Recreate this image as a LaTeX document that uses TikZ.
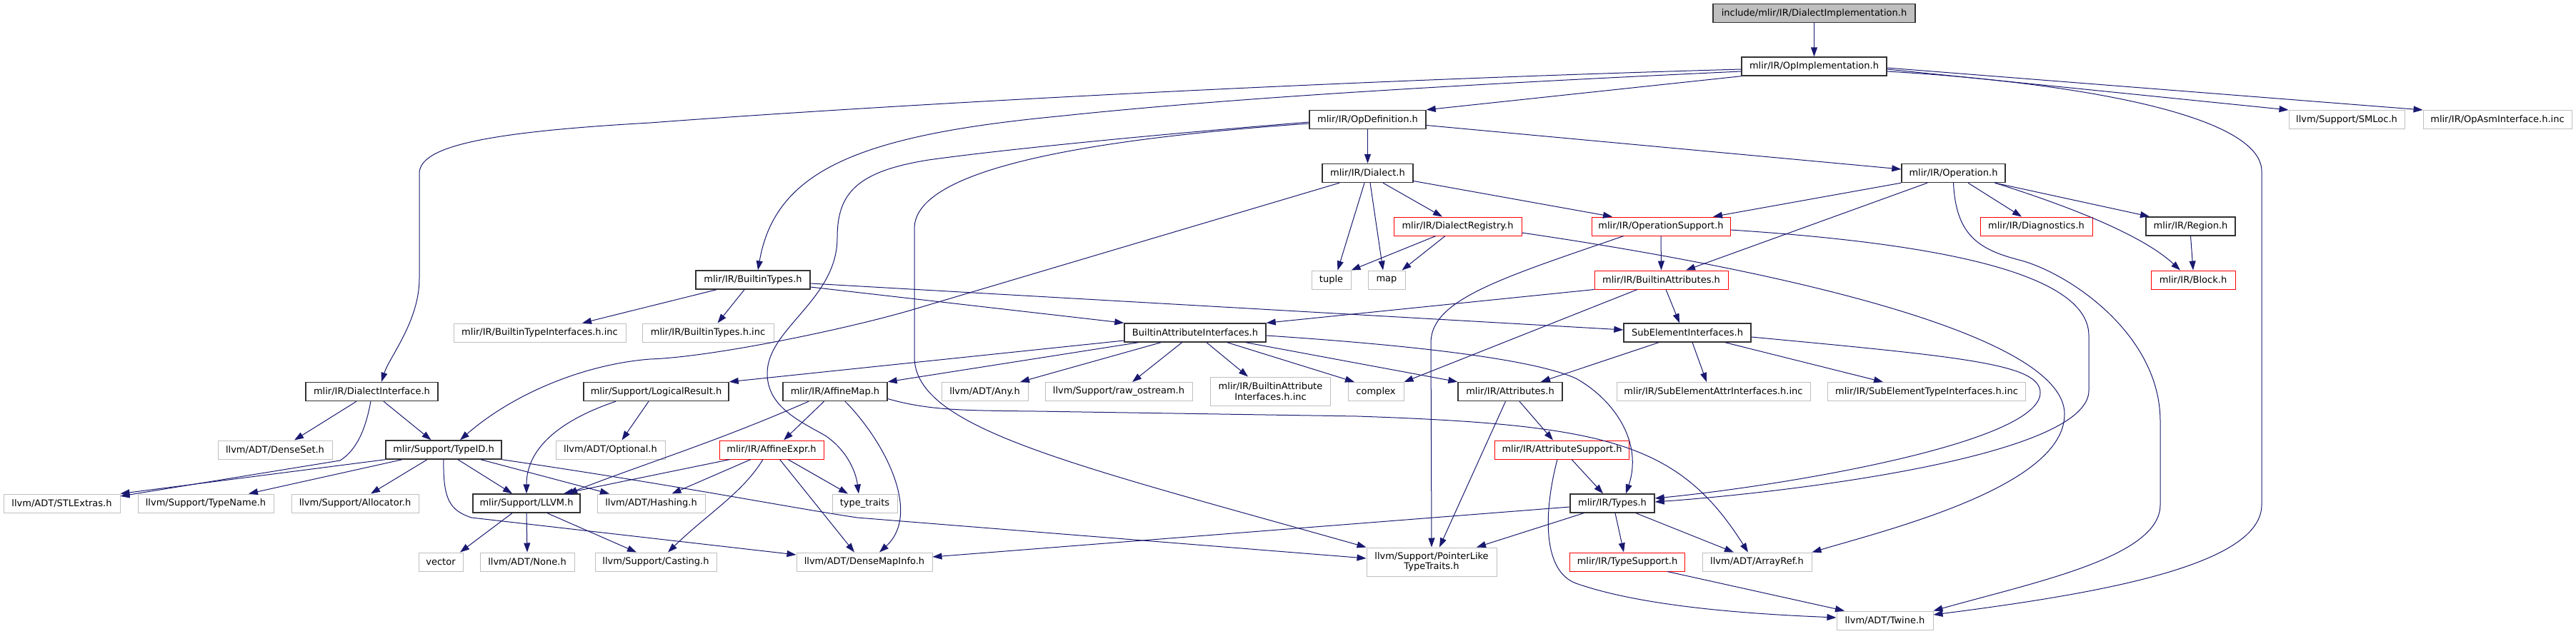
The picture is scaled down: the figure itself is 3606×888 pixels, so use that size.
\documentclass[tikz,border=0pt]{standalone}
\usepackage{fontspec}
\setmainfont{DejaVu Sans}
\usetikzlibrary{arrows.meta}
\definecolor{edgec}{HTML}{191970}
\definecolor{ndark}{HTML}{333333}
\definecolor{ngray}{HTML}{BFBFBF}
\definecolor{nred}{HTML}{FF0000}
\tikzset{
  nbase/.style={rectangle, inner sep=0pt, minimum height=26pt,
    font=\fontsize{13}{14.5}\selectfont, align=center},
  nb/.style={nbase, draw=ndark, line width=1.4pt},
  nr/.style={nbase, draw=nred, line width=1pt},
  ng/.style={nbase, draw=ngray, line width=1pt},
  ntop/.style={nb, fill=ngray},
  two/.style={minimum height=40pt},
  e/.style={draw=edgec, line width=1pt, -{Triangle[length=13pt,width=9pt]}},
}
\begin{document}
\begin{tikzpicture}[x=1pt,y=-1pt]
\useasboundingbox (0,0) rectangle (3606,888);
% row 1-3
\node[ntop, minimum width=283pt] (top) at (2539.5,18.5) {include/mlir/IR/DialectImplementation.h};
\node[nb, minimum width=203pt] (opimpl) at (2539.5,93) {mlir/IR/OpImplementation.h};
\node[nb, minimum width=163pt] (opdef) at (1914.5,167.5) {mlir/IR/OpDefinition.h};
\node[ng, minimum width=162pt] (smloc) at (3285,167.5) {llvm/Support/SMLoc.h};
\node[ng, minimum width=208pt] (opasm) at (3496,167.5) {mlir/IR/OpAsmInterface.h.inc};
% row 4
\node[nb, minimum width=127pt] (dialect) at (1914.5,242.5) {mlir/IR/Dialect.h};
\node[nb, minimum width=145pt] (operation) at (2734.5,242.5) {mlir/IR/Operation.h};
% row 5
\node[nr, minimum width=179pt] (dregistry) at (2040.5,317) {mlir/IR/DialectRegistry.h};
\node[nr, minimum width=194pt] (opsupport) at (2325,317) {mlir/IR/OperationSupport.h};
\node[nr, minimum width=157pt] (diagnostics) at (2850.5,317) {mlir/IR/Diagnostics.h};
\node[nb, minimum width=125pt] (region) at (3066.5,317) {mlir/IR/Region.h};
% row 6
\node[nb, minimum width=160pt] (btypes) at (1054,392) {mlir/IR/BuiltinTypes.h};
\node[ng, minimum width=55pt] (tuple) at (1863.5,392) {tuple};
\node[ng, minimum width=52pt] (map) at (1941,392) {map};
\node[nr, minimum width=187pt] (battrs) at (2325.5,392) {mlir/IR/BuiltinAttributes.h};
\node[nr, minimum width=118pt] (block) at (3070,392) {mlir/IR/Block.h};
% row 7
\node[ng, minimum width=241pt] (btiinc) at (755.5,466) {mlir/IR/BuiltinTypeInterfaces.h.inc};
\node[ng, minimum width=184pt] (btinc) at (991,466) {mlir/IR/BuiltinTypes.h.inc};
\node[nb, minimum width=198pt] (bai) at (1673,466) {BuiltinAttributeInterfaces.h};
\node[nb, minimum width=178pt] (sei) at (2362,466) {SubElementInterfaces.h};
% row 8
\node[nb, minimum width=185pt] (dinterface) at (520.5,548.5) {mlir/IR/DialectInterface.h};
\node[nb, minimum width=203pt] (logical) at (918.5,548.5) {mlir/Support/LogicalResult.h};
\node[nb, minimum width=146pt] (affinemap) at (1169,548.5) {mlir/IR/AffineMap.h};
\node[ng, minimum width=121pt] (any) at (1378.5,548.5) {llvm/ADT/Any.h};
\node[ng, minimum width=206pt] (rawos) at (1566,548.5) {llvm/Support/raw\_ostream.h};
\node[ng, two, minimum width=168pt] (baiinc) at (1778.5,548) {mlir/IR/BuiltinAttribute\\Interfaces.h.inc};
\node[ng, minimum width=78pt] (complex) at (1926,548.5) {complex};
\node[nb, minimum width=146pt] (attributes) at (2114,548.5) {mlir/IR/Attributes.h};
\node[ng, minimum width=271pt] (seattr) at (2398.5,548.5) {mlir/IR/SubElementAttrInterfaces.h.inc};
\node[ng, minimum width=277pt] (setype) at (2697,548.5) {mlir/IR/SubElementTypeInterfaces.h.inc};
% row 9
\node[ng, minimum width=160pt] (denseset) at (385,630) {llvm/ADT/DenseSet.h};
\node[nb, minimum width=162pt] (typeid) at (621,630) {mlir/Support/TypeID.h};
\node[ng, minimum width=153pt] (optional) at (854.5,630) {llvm/ADT/Optional.h};
\node[nr, minimum width=146pt] (affineexpr) at (1080,630) {mlir/IR/AffineExpr.h};
\node[nr, minimum width=188pt] (attrsupport) at (2186.5,630) {mlir/IR/AttributeSupport.h};
% row 10
\node[ng, minimum width=163pt] (stlextras) at (86.5,705) {llvm/ADT/STLExtras.h};
\node[ng, minimum width=190pt] (typename) at (288,705) {llvm/Support/TypeName.h};
\node[ng, minimum width=178pt] (allocator) at (497,705) {llvm/Support/Allocator.h};
\node[nb, minimum width=150pt] (llvm) at (737,705) {mlir/Support/LLVM.h};
\node[ng, minimum width=151pt] (hashing) at (911.5,705) {llvm/ADT/Hashing.h};
\node[ng, minimum width=91pt] (typetraits) at (1210.5,705) {type\_traits};
\node[nb, minimum width=118pt] (types) at (2257,705) {mlir/IR/Types.h};
% row 11
\node[ng, minimum width=62pt] (vector) at (617,787) {vector};
\node[ng, minimum width=132pt] (none) at (738,787) {llvm/ADT/None.h};
\node[ng, minimum width=170pt] (casting) at (918,787) {llvm/Support/Casting.h};
\node[ng, minimum width=190pt] (densemapinfo) at (1210,787) {llvm/ADT/DenseMapInfo.h};
\node[ng, two, minimum width=182pt] (pointerlike) at (2004,787) {llvm/Support/PointerLike\\TypeTraits.h};
\node[nr, minimum width=161pt] (typesupport) at (2278,787) {mlir/IR/TypeSupport.h};
\node[ng, minimum width=153pt] (arrayref) at (2459.5,787) {llvm/ADT/ArrayRef.h};
% row 12
\node[ng, minimum width=135pt] (twine) at (2638.5,869) {llvm/ADT/Twine.h};

% ---- edges ----
\draw[e] (top.south) -- (opimpl.north);
\draw[e] (opimpl.south west) -- (opdef.north east);
\draw[e] ([yshift=-7pt]opimpl.west) .. controls (1900,125) and (1650,145) .. (1480,163) .. controls (1200,190) and (1085,240) .. ([xshift=7pt]btypes.north);
\draw[e] ([yshift=-4pt]opimpl.west) .. controls (1800,115) and (1200,150) .. (910,172) .. controls (680,185) and (587,205) .. (587,243) -- (587,390) .. controls (587,450) and (545,500) .. ([xshift=13.5pt]dinterface.north);
\draw[e] ([yshift=-4pt]opimpl.east) -- (smloc.north west);
\draw[e] ([yshift=-2pt]opimpl.east) -- (opasm.north west);
\draw[e] ([yshift=-7pt]opimpl.east) .. controls (2900,115) and (3166,160) .. (3166,240) -- (3166,707) .. controls (3166,790) and (2950,830) .. ([yshift=8pt]twine.east);

\draw[e] (opdef.south) -- (dialect.north);
\draw[e] ([yshift=-8pt]opdef.east) -- ([yshift=5.5pt]operation.west);
\draw[e] ([yshift=-3.5pt]opdef.west) .. controls (1600,190) and (1400,210) .. (1300,224) .. controls (1200,240) and (1172,270) .. (1172,333) .. controls (1172,420) and (1074,460) .. (1074,523) .. controls (1074,570) and (1120,590) .. (1155,610) .. controls (1185,630) and (1198,660) .. ([xshift=-8.5pt]typetraits.north);
\draw[e] ([yshift=-5.5pt]opdef.west) .. controls (1450,200) and (1280,250) .. (1280,320) -- (1280,500) .. controls (1280,600) and (1500,650) .. (pointerlike.north west);

\draw[e] ([xshift=-4.5pt]dialect.south) -- ([xshift=9pt]tuple.north);
\draw[e] ([xshift=3.5pt]dialect.south) -- ([xshift=-5pt]map.north);
\draw[e] ([xshift=21.5pt]dialect.south) -- ([xshift=-21.5pt]dregistry.north);
\draw[e] ([yshift=-11pt]dialect.east) -- ([xshift=-68pt]opsupport.north);
\draw[e] ([xshift=-39.5pt]dialect.south) -- (1290,430) .. controls (1200,458) and (1000,500) .. (910,503) .. controls (820,510) and (720,550) .. ([xshift=23pt]typeid.north);

\draw[e] ([xshift=-30.5pt]dregistry.south) -- (tuple.north east);
\draw[e] ([xshift=-17.5pt]dregistry.south) -- ([xshift=21.5pt]map.north);
\draw[e] ([yshift=-9pt]dregistry.east) .. controls (2500,380) and (2890,470) .. (2890,580) .. controls (2890,680) and (2650,740) .. (arrayref.north east);

\draw[e] (opsupport.south) -- (battrs.north);
\draw[e] ([xshift=-52pt]opsupport.south) .. controls (2100,390) and (2003,420) .. (2003,480) -- (pointerlike.north);
\draw[e] ([yshift=-5pt]opsupport.east) .. controls (2700,340) and (2924,380) .. (2924,470) -- (2924,547) .. controls (2924,640) and (2500,690) .. ([yshift=2pt]types.east);

\draw[e] (operation.south west) -- ([xshift=73pt]opsupport.north);
\draw[e] ([xshift=-36.5pt]operation.south) -- ([xshift=34.5pt]battrs.north);
\draw[e] ([xshift=20.5pt]operation.south) -- ([xshift=-20.5pt]diagnostics.north);
\draw[e] ([xshift=58pt]operation.south) -- ([xshift=-57.5pt]region.north);
\draw[e] ([xshift=58pt]operation.south) .. controls (2900,290) and (3000,330) .. ([xshift=-18pt]block.north);
\draw[e] (operation.south) .. controls (2738,330) and (2770,350) .. (2830,365) .. controls (2900,385) and (3024,470) .. (3024,590) -- (3024,707) .. controls (3024,780) and (2850,815) .. (twine.north east);
\draw[e] (region.south) -- (block.north);

\draw[e] (battrs.south west) -- (bai.north east);
\draw[e] ([xshift=-33.5pt]battrs.south) -- (complex.north east);
\draw[e] ([xshift=6.5pt]battrs.south) -- ([xshift=-11pt]sei.north);

\draw[e] ([xshift=-51pt]btypes.south) -- ([xshift=59.5pt]btiinc.north);
\draw[e] ([xshift=-12pt]btypes.south) -- ([xshift=13.5pt]btinc.north);
\draw[e] ([yshift=-10pt]btypes.east) -- (bai.north west);
\draw[e] ([yshift=-5pt]btypes.east) -- ([yshift=4pt]sei.west);

\draw[e] ([yshift=-11pt]bai.west) -- (logical.north east);
\draw[e] ([xshift=-79.5pt]bai.south) -- (affinemap.north east);
\draw[e] ([xshift=-48pt]bai.south) -- ([xshift=49.5pt]any.north);
\draw[e] ([xshift=-18.5pt]bai.south) -- ([xshift=19pt]rawos.north);
\draw[e] ([xshift=16pt]bai.south) -- ([xshift=-31.5pt]baiinc.north);
\draw[e] ([xshift=45pt]bai.south) -- ([xshift=-30pt]complex.north);
\draw[e] ([xshift=71pt]bai.south) -- (attributes.north west);
\draw[e] ([yshift=-4pt]bai.east) .. controls (2000,485) and (2150,505) .. (2206,530) .. controls (2260,560) and (2300,620) .. ([xshift=19pt]types.north);

\draw[e] ([xshift=-40pt]sei.south) -- ([xshift=43pt]attributes.north);
\draw[e] ([xshift=7pt]sei.south) -- ([xshift=-9.5pt]seattr.north);
\draw[e] ([xshift=53pt]sei.south) -- ([xshift=-61pt]setype.north);
\draw[e] ([yshift=-6pt]sei.east) .. controls (2750,500) and (2856,510) .. (2856,550) .. controls (2856,620) and (2500,680) .. ([yshift=7pt]types.east);

\draw[e] ([xshift=-56.5pt]logical.south) .. controls (780,590) and (737,630) .. (llvm.north);
\draw[e] ([xshift=-10.5pt]logical.south) -- ([xshift=16pt]optional.north);

\draw[e] ([xshift=-15.5pt]affinemap.south) -- ([xshift=17pt]affineexpr.north);
\draw[e] ([xshift=-37pt]affinemap.south) .. controls (1000,620) and (900,650) .. ([xshift=58pt]llvm.north);
\draw[e] ([xshift=14pt]affinemap.south) .. controls (1240,620) and (1290,720) .. ([xshift=21pt]densemapinfo.north);
\draw[e] ([yshift=-10pt]affinemap.east) .. controls (1300,575) and (1350,575) .. (1450,576) -- (1900,583) .. controls (2250,595) and (2350,620) .. ([xshift=-12.5pt]arrayref.north);

\draw[e] ([xshift=-58pt]affineexpr.south) -- ([xshift=52pt]llvm.north);
\draw[e] ([xshift=-29pt]affineexpr.south) -- ([xshift=29pt]hashing.north);
\draw[e] ([xshift=-12pt]affineexpr.south) .. controls (1040,690) and (990,720) .. ([xshift=17pt]casting.north);
\draw[e] ([xshift=11.5pt]affineexpr.south) -- ([xshift=-14pt]densemapinfo.north);
\draw[e] ([xshift=23pt]affineexpr.south) -- ([xshift=-23.5pt]typetraits.north);

\draw[e] (typeid.south west) -- (stlextras.north east);
\draw[e] ([xshift=-58pt]typeid.south) -- ([xshift=60pt]typename.north);
\draw[e] ([xshift=-23pt]typeid.south) -- ([xshift=22pt]allocator.north);
\draw[e] ([xshift=20pt]typeid.south) -- ([xshift=-20pt]llvm.north);
\draw[e] ([xshift=52pt]typeid.south) -- ([xshift=-58.5pt]hashing.north);
\draw[e] (typeid.south) .. controls (620,700) and (630,715) .. (660,725) -- ([yshift=10pt]densemapinfo.west);
\draw[e] (typeid.south east) .. controls (950,680) and (1100,710) .. (1200,725) -- ([yshift=5pt]pointerlike.west);

\draw[e] ([xshift=-21.5pt]dinterface.south) -- ([xshift=27pt]denseset.north);
\draw[e] ([xshift=16.5pt]dinterface.south) -- ([xshift=-17.5pt]typeid.north);
\draw[e] ([xshift=-1.5pt]dinterface.south) .. controls (512,600) and (500,630) .. (476,645) -- ([yshift=10pt]stlextras.east);

\draw[e] ([xshift=-20pt]llvm.south) -- ([xshift=27pt]vector.north);
\draw[e] (llvm.south) -- (none.north);
\draw[e] ([xshift=29pt]llvm.south) -- ([xshift=-27pt]casting.north);

\draw[e] ([xshift=13pt]attributes.south) -- ([xshift=-12.5pt]attrsupport.north);
\draw[e] ([xshift=-6.5pt]attributes.south) -- ([xshift=11pt]pointerlike.north);

\draw[e] ([xshift=13.5pt]attrsupport.south) -- ([xshift=-13pt]types.north);
\draw[e] ([xshift=-6.5pt]attrsupport.south) .. controls (2160,720) and (2160,800) .. (2206,817) .. controls (2300,850) and (2450,860) .. ([yshift=4pt]twine.west);

\draw[e] ([yshift=-5pt]types.west) -- ([yshift=7pt]densemapinfo.east);
\draw[e] ([xshift=-40pt]types.south) -- ([xshift=63pt]pointerlike.north);
\draw[e] ([xshift=4pt]types.south) -- ([xshift=-5pt]typesupport.north);
\draw[e] ([xshift=33pt]types.south) -- ([xshift=-32.5pt]arrayref.north);

\draw[e] ([xshift=56pt]typesupport.south) -- ([xshift=-56.5pt]twine.north);
\end{tikzpicture}
\end{document}
